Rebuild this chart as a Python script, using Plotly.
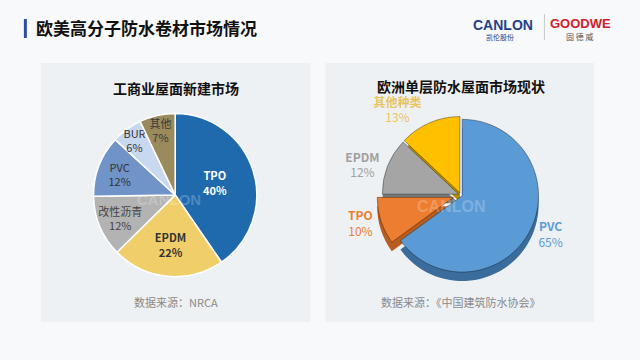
import plotly.graph_objects as go

# ---- data ----
left_labels = ["TPO", "EPDM", "改性沥青", "PVC", "BUR", "其他"]
left_values = [40, 22, 12, 12, 6, 7]
left_colors = ["#1f6aad", "#f0cf6b", "#b3b3b3", "#7094c8", "#c8d8ee", "#9b8b5c"]
left_text_colors = ["#ffffff", "#333333", "#444444", "#333333", "#333333", "#3a3a3a"]

right_labels = ["PVC", "TPO", "EPDM", "其他种类"]
right_values = [65, 10, 12, 13]
right_colors = ["#5b9bd5", "#ed7d31", "#a5a5a5", "#ffc000"]
right_side_colors = ["#3a6c9c", "#b85c20", "#787878", "#b88c00"]
right_text_colors = ["#5b9bd5", "#ed7d31", "#a0a0a0", "#e8c45e"]
right_pull = [0.02, 0.10, 0.03, 0.03]

title = "欧美高分子防水卷材市场情况"
left_title = "工商业屋面新建市场"
right_title = "欧洲单层防水屋面市场现状"
left_source = "数据来源：NRCA"
right_source = "数据来源：《中国建筑防水协会》"

W, H = 640, 360
FONT = "Noto Sans CJK SC"

def px_x(v):
    return v / W

def px_y(v):
    return 1 - v / H

left_text = []
for lab, val in zip(left_labels, left_values):
    if lab in ("TPO", "EPDM"):
        left_text.append(f"<b>{lab}<br>{val}%</b>")
    else:
        left_text.append(f"{lab}<br>{val}%")

right_text = [f"<b>{lab}</b><br>{val}%" for lab, val in zip(right_labels, right_values)]

fig = go.Figure()

fig.add_trace(go.Pie(
    labels=left_labels, values=left_values, text=left_text,
    textinfo="text", textposition="inside", insidetextorientation="horizontal",
    sort=False, direction="clockwise", rotation=0,
    marker=dict(colors=left_colors, line=dict(color="#ffffff", width=1.5)),
    textfont=dict(family=FONT, size=11, color=left_text_colors),
    domain=dict(x=[px_x(94), px_x(258)], y=[px_y(277), px_y(113)]),
    showlegend=False, hoverinfo="label+value",
))

# side (thickness) of the 3D-like pie (same box size -> same radius)
fig.add_trace(go.Pie(
    labels=right_labels, values=right_values,
    textinfo="none",
    sort=False, direction="clockwise", rotation=0, pull=right_pull,
    marker=dict(colors=right_side_colors, line=dict(color="rgba(0,0,0,0)", width=0)),
    domain=dict(x=[px_x(350), px_x(576)], y=[px_y(288), px_y(120)]),
    showlegend=False, hoverinfo="skip",
))

fig.add_trace(go.Pie(
    labels=right_labels, values=right_values, text=right_text,
    textinfo="text", textposition="outside",
    sort=False, direction="clockwise", rotation=0, pull=right_pull,
    marker=dict(colors=right_colors, line=dict(color="rgba(0,0,0,0.35)", width=1)),
    textfont=dict(family=FONT, size=12, color=right_text_colors),
    domain=dict(x=[px_x(350), px_x(576)], y=[px_y(279), px_y(111)]),
    showlegend=False, hoverinfo="label+value",
))

shapes = [
    dict(type="rect", xref="paper", yref="paper",
         x0=px_x(41), x1=px_x(312), y0=px_y(322), y1=px_y(63),
         fillcolor="#eef1f4", line=dict(width=0), layer="below"),
    dict(type="rect", xref="paper", yref="paper",
         x0=px_x(327), x1=px_x(597), y0=px_y(322), y1=px_y(63),
         fillcolor="#eef1f4", line=dict(width=0), layer="below"),
    dict(type="rect", xref="paper", yref="paper",
         x0=px_x(24), x1=px_x(27), y0=px_y(38), y1=px_y(19),
         fillcolor="#2d4f9e", line=dict(width=0)),
    dict(type="line", xref="paper", yref="paper",
         x0=px_x(547), x1=px_x(547), y0=px_y(40), y1=px_y(14),
         line=dict(color="#c8c8c8", width=1)),
]

annotations = [
    dict(text=f"<b>{title}</b>", x=px_x(34), y=px_y(28), xanchor="left", yanchor="middle",
         font=dict(family=FONT, size=17, color="#111111")),
    dict(text=f"<b>{left_title}</b>", x=px_x(177), y=px_y(88), xanchor="center", yanchor="middle",
         font=dict(family=FONT, size=14, color="#111111")),
    dict(text=f"<b>{right_title}</b>", x=px_x(463), y=px_y(86), xanchor="center", yanchor="middle",
         font=dict(family=FONT, size=14, color="#111111")),
    dict(text=left_source, x=px_x(177), y=px_y(302), xanchor="center", yanchor="middle",
         font=dict(family=FONT, size=11, color="#8a8a8a")),
    dict(text=right_source, x=px_x(463), y=px_y(302), xanchor="center", yanchor="middle",
         font=dict(family=FONT, size=11, color="#8a8a8a")),
    dict(text="<b>CANLON</b>", x=px_x(505), y=px_y(25), xanchor="center", yanchor="middle",
         font=dict(family="Liberation Sans", size=14, color="#1f3f8a")),
    dict(text="凯伦股份", x=px_x(502), y=px_y(37), xanchor="center", yanchor="middle",
         font=dict(family=FONT, size=7, color="#1f3f8a")),
    dict(text="<b>GOODWE</b>", x=px_x(583), y=px_y(24), xanchor="center", yanchor="middle",
         font=dict(family="Liberation Sans", size=13, color="#d0202a")),
    dict(text="固 德 威", x=px_x(583), y=px_y(37), xanchor="center", yanchor="middle",
         font=dict(family=FONT, size=8, color="#555555")),
    dict(text="<b>CANLON</b>", x=px_x(170), y=px_y(199), xanchor="center", yanchor="middle",
         font=dict(family="Liberation Sans", size=15, color="rgba(255,255,255,0.22)")),
    dict(text="<b>CANLON</b>", x=px_x(453), y=px_y(206), xanchor="center", yanchor="middle",
         font=dict(family="Liberation Sans", size=16, color="rgba(255,255,255,0.22)")),
]
for a in annotations:
    a.update(xref="paper", yref="paper", showarrow=False)

fig.update_layout(
    width=W, height=H,
    margin=dict(l=0, r=0, t=0, b=0),
    paper_bgcolor="#f8f9fb", plot_bgcolor="#f8f9fb",
    shapes=shapes, annotations=annotations,
    font=dict(family=FONT),
    uniformtext=dict(minsize=11, mode="show"),
)

fig.write_html("out.html", config={"displayModeBar": False},
               post_script="document.body.style.margin='0px';")
